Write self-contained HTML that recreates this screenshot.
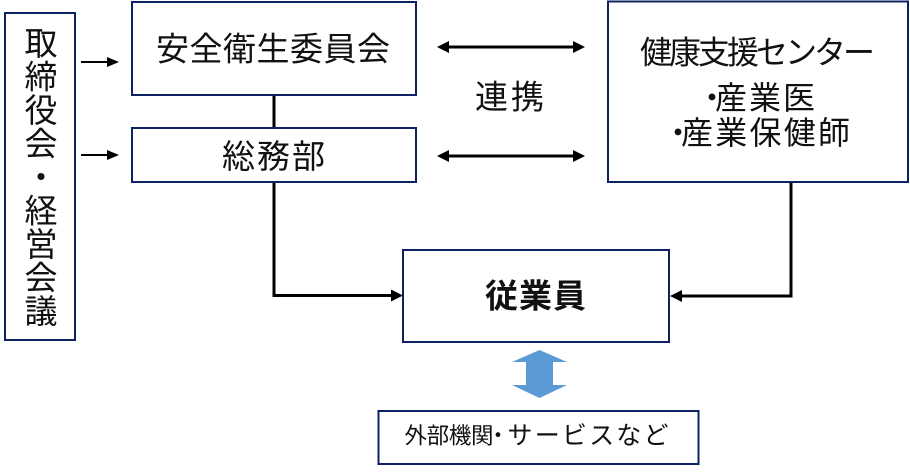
<!DOCTYPE html>
<html><head><meta charset="utf-8">
<style>
html,body{margin:0;padding:0;background:#fff;width:910px;height:473px;overflow:hidden;}
svg{display:block;}
text{font-family:"Liberation Sans","Noto Sans CJK JP",sans-serif;fill:#111;dominant-baseline:central;}
</style></head>
<body>
<svg width="910" height="473" viewBox="0 0 910 473" xmlns="http://www.w3.org/2000/svg">
<g fill="#fff" stroke="#0b2461" stroke-width="2">
  <rect x="5" y="13" width="70" height="327"/>
  <rect x="132" y="2" width="284" height="93"/>
  <rect x="132" y="128" width="284" height="54"/>
  <rect x="608" y="1.5" width="300" height="180.5"/>
  <rect x="403" y="250" width="266" height="92"/>
  <rect x="378.5" y="411" width="320" height="53"/>
</g>

<!-- connectors -->
<g stroke="#000" fill="none" stroke-width="3">
  <line x1="274" y1="96" x2="274" y2="127"/>
  <polyline points="274,183 274,295.5 392,295.5"/>
  <polyline points="791,183 791,296 681,296"/>
  <line x1="448" y1="47" x2="574" y2="47"/>
  <line x1="448" y1="156" x2="574" y2="156"/>
</g>
<g stroke="#000" stroke-width="2">
  <line x1="81" y1="62" x2="108" y2="62"/>
  <line x1="81" y1="155" x2="108" y2="155"/>
</g>
<g fill="#000">
  <polygon points="391,289.5 403,295.5 391,301.5"/>
  <polygon points="682,290 670,296 682,302"/>
  <polygon points="107,57 119,62 107,67"/>
  <polygon points="107,150 119,155 107,160"/>
  <polygon points="449,41 437,47 449,53"/>
  <polygon points="573,41 585,47 573,53"/>
  <polygon points="449,150 437,156 449,162"/>
  <polygon points="573,150 585,156 573,162"/>
</g>

<!-- blue double arrow -->
<polygon fill="#5b9bd5" points="539.5,350 567,362 553,362 553,385 567,385 539.5,398 512,385 526,385 526,362 512,362"/>

<!-- texts -->
<g font-size="33">
  <text x="41" y="43.5" text-anchor="middle">取</text>
  <text x="41" y="77" text-anchor="middle">締</text>
  <text x="41" y="110.5" text-anchor="middle">役</text>
  <text x="41" y="144" text-anchor="middle">会</text>
  <text x="41" y="177.5" text-anchor="middle">・</text>
  <text x="41" y="211" text-anchor="middle">経</text>
  <text x="41" y="244.5" text-anchor="middle">営</text>
  <text x="41" y="278" text-anchor="middle">会</text>
  <text x="41" y="311.5" text-anchor="middle">議</text>

  <text x="156" y="49" textLength="234" lengthAdjust="spacing">安全衛生委員会</text>
  <text x="222" y="156.5" textLength="103" lengthAdjust="spacing">総務部</text>
  <text x="475" y="97" textLength="69" lengthAdjust="spacing">連携</text>

  <text x="640" y="52.5" font-size="32" textLength="235" lengthAdjust="spacing">健康支援センター</text>
  <text x="712" y="98" text-anchor="middle" font-size="32">・</text>
  <text x="715" y="98" font-size="32" textLength="100" lengthAdjust="spacing">産業医</text>
  <text x="678" y="133" text-anchor="middle" font-size="32">・</text>
  <text x="681" y="133" font-size="32" textLength="169" lengthAdjust="spacing">産業保健師</text>

  <text x="485" y="296" font-weight="bold" textLength="101" lengthAdjust="spacing">従業員</text>
</g>
<g font-size="22.5">
  <text x="404.5" y="436" textLength="89" lengthAdjust="spacing">外部機関</text>
  <text x="498" y="436" text-anchor="middle">・</text>
  <text x="507.5" y="436" font-size="25" textLength="161" lengthAdjust="spacing">サービスなど</text>
</g>
</svg>
</body></html>
